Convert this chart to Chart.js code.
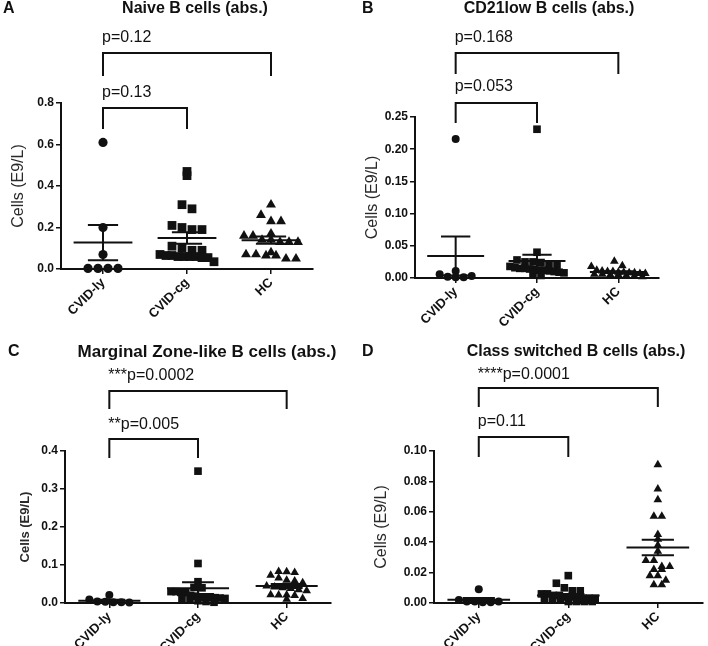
<!DOCTYPE html>
<html>
<head>
<meta charset="utf-8">
<script src="https://cdn.jsdelivr.net/npm/chart.js@4/dist/chart.umd.min.js"></script>
<style>
  html, body { margin: 0; padding: 0; background: #fff; }
  #page { position: relative; width: 708px; height: 646px; overflow: hidden; }
  canvas { position: absolute; }
</style>
</head>
<body>
<div id="page">
  <canvas id="chart-a" width="354" height="340" style="left:0;top:0"></canvas>
  <canvas id="chart-b" width="354" height="340" style="left:354px;top:0"></canvas>
  <canvas id="chart-c" width="354" height="326" style="left:0;top:320px"></canvas>
  <canvas id="chart-d" width="354" height="326" style="left:354px;top:320px"></canvas>
</div>
<script>
// ====
// Data
// ====
const groups = ['CVID-ly', 'CVID-cg', 'HC'];

//  A - Naive B cells
//  -----------------
const naiveLy = [0.61, 0.20, 0.07, 0.003, 0.003, 0.003, 0.003];
const naiveCg = [0.47, 0.45, 0.31, 0.29, 0.21, 0.20, 0.19, 0.19, 0.11, 0.10, 0.09,
                 0.09, 0.07, 0.065, 0.065, 0.06, 0.06, 0.06, 0.06, 0.055, 0.055, 0.035];
const naiveHc = [0.31, 0.26, 0.23, 0.23, 0.17, 0.16, 0.16, 0.14, 0.14, 0.13, 0.13,
                 0.13, 0.08, 0.07, 0.07, 0.065, 0.065, 0.05, 0.05];
const naiveP = ['p=0.13', 'p=0.12'];

//  B - CD21low B cells
//  -------------------
const cd21Ly = [0.216, 0.011, 0.006, 0.002, 0.001, 0.001, 0.003];
const cd21Cg = [0.231, 0.04, 0.028, 0.025, 0.025, 0.024, 0.022, 0.02, 0.018, 0.016, 0.015,
                0.015, 0.014, 0.013, 0.012, 0.012, 0.011, 0.01, 0.009, 0.008, 0.006, 0.004];
const cd21Hc = [0.026, 0.019, 0.018, 0.012, 0.011, 0.01, 0.01, 0.009, 0.009, 0.008,
                0.008, 0.007, 0.007, 0.006, 0.006, 0.005, 0.005, 0.004, 0.003, 0.002];
const cd21P = ['p=0.053', 'p=0.168'];

//  C - Marginal zone-like B cells
//  ------------------------------
const mzLy = [0.021, 0.009, 0.004, 0.003, 0.002, 0.002, 0.001];
const mzCg = [0.347, 0.104, 0.056, 0.041, 0.04, 0.03, 0.03, 0.028, 0.027, 0.02, 0.018,
              0.016, 0.015, 0.015, 0.014, 0.013, 0.012, 0.01, 0.008, 0.006, 0.004, 0.002];
const mzHc = [0.083, 0.082, 0.08, 0.073, 0.066, 0.06, 0.058, 0.053, 0.045, 0.042,
              0.04, 0.038, 0.035, 0.032, 0.022, 0.021, 0.021, 0.02, 0.012, 0.01];
const mzP = ['**p=0.005', '***p=0.0002'];

//  D - Class switched B cells
//  --------------------------
const csLy = [0.009, 0.002, 0.001, 0.001, 0.0005, 0.0005, 0.001];
const csCg = [0.018, 0.013, 0.010, 0.008, 0.008, 0.006, 0.006, 0.005, 0.005, 0.004, 0.004,
              0.004, 0.003, 0.003, 0.003, 0.002, 0.002, 0.002, 0.001, 0.001, 0.001, 0.001];
const csHc = [0.091, 0.075, 0.068, 0.057, 0.057, 0.045, 0.042, 0.038, 0.034, 0.028,
              0.028, 0.024, 0.024, 0.022, 0.022, 0.018, 0.018, 0.015, 0.012, 0.012];
const csP = ['p=0.11', '****p=0.0001'];


// ======
// Panels
// ======
const FONT = "'Liberation Sans', Arial, sans-serif";
const INK = '#111';

const panels = [
  {
    id: 'chart-a', letter: 'A', title: 'Naive B cells (abs.)', titleSize: 16,
    values: [naiveLy, naiveCg, naiveHc], pTexts: naiveP,
    yMax: 0.8, yStep: 0.2, decimals: 1,
    height: 340, area: {left: 61, right: 313, top: 103, bottom: 269},
    titlePos: [195, 9], letterX: 3,
    brackets: [{y: 108, leg: 129, text: 93}, {y: 53, leg: 76, text: 38}],
    yTitle: {pad: 9, size: 16, weight: 'normal'},
    marker: 4.6, gap: 10,
  },
  {
    id: 'chart-b', letter: 'B', title: 'CD21low B cells (abs.)', titleSize: 16,
    values: [cd21Ly, cd21Cg, cd21Hc], pTexts: cd21P,
    yMax: 0.25, yStep: 0.05, decimals: 2,
    height: 340, area: {left: 61, right: 305, top: 117, bottom: 278},
    titlePos: [195, 9], letterX: 8,
    brackets: [{y: 103, leg: 123, text: 87}, {y: 53, leg: 74, text: 38}],
    yTitle: {pad: 9, size: 16, weight: 'normal'},
    marker: 4, gap: 8,
  },
  {
    id: 'chart-c', letter: 'C', title: 'Marginal Zone-like B cells (abs.)', titleSize: 17,
    values: [mzLy, mzCg, mzHc], pTexts: mzP,
    yMax: 0.4, yStep: 0.1, decimals: 1,
    height: 326, area: {left: 65, right: 331, top: 131, bottom: 283},
    titlePos: [207, 32], letterX: 8,
    brackets: [{y: 119, leg: 138, text: 105}, {y: 71, leg: 89, text: 56}],
    yTitle: {pad: 18, size: 13, weight: 'bold'},
    marker: 4, gap: 8,
  },
  {
    id: 'chart-d', letter: 'D', title: 'Class switched B cells (abs.)', titleSize: 16,
    values: [csLy, csCg, csHc], pTexts: csP,
    yMax: 0.10, yStep: 0.02, decimals: 2,
    height: 326, area: {left: 80, right: 350, top: 131, bottom: 283},
    titlePos: [222, 32], letterX: 8,
    brackets: [{y: 117, leg: 137, text: 102}, {y: 68, leg: 87, text: 55}],
    yTitle: {pad: 18, size: 16, weight: 'normal'},
    marker: 4, gap: 8,
  },
];

const styles = ['circle', 'rect', 'triangle'];
// rect and triangle need a bigger radius to look as big as the circle
const sizeFactor = [1, 1.35, 1.25];


// =======
// Helpers
// =======

//  Scatter-dot spread: points in the same value band sit side by side
const spreadGroup = (values, pxY, pxX, gap, maxHalf) => {
  const bins = new Map();
  values.forEach((v, i) => {
    const b = Math.round(v * pxY / gap);
    if (!bins.has(b)) bins.set(b, []);
    bins.get(b).push(i);
  });
  const offsets = new Array(values.length).fill(0);
  bins.forEach((idx) => {
    const n = idx.length;
    const step = n > 1 ? Math.min(gap, 2 * maxHalf / (n - 1)) : 0;
    idx.forEach((i, j) => {
      offsets[i] = (j - (n - 1) / 2) * step / pxX;
    });
  });
  return offsets;
};

const meanSem = (values) => {
  const n = values.length;
  const mean = values.reduce((a, b) => a + b, 0) / n;
  const sd = Math.sqrt(values.reduce((a, v) => a + (v - mean) ** 2, 0) / (n - 1));
  return {mean, sem: sd / Math.sqrt(n)};
};

//  Mean/SEM lines, title, brackets and p-values
const decorPlugin = (p) => ({
  id: 'decor-' + p.id,
  afterDatasetsDraw(chart) {
    const {ctx, scales: {x, y}} = chart;
    ctx.save();
    ctx.strokeStyle = INK;
    ctx.lineWidth = 2;
    p.values.forEach((vals, g) => {
      const {mean, sem} = meanSem(vals);
      const cx = x.getPixelForValue(g + 1);
      const half = x.getPixelForValue(1.35) - x.getPixelForValue(1);
      const cap = x.getPixelForValue(1.18) - x.getPixelForValue(1);
      const yMean = y.getPixelForValue(mean);
      const yHi = y.getPixelForValue(mean + sem);
      const yLo = y.getPixelForValue(Math.max(mean - sem, 0));
      ctx.beginPath();
      ctx.moveTo(cx - half, yMean); ctx.lineTo(cx + half, yMean);
      ctx.moveTo(cx - cap, yHi); ctx.lineTo(cx + cap, yHi);
      ctx.moveTo(cx - cap, yLo); ctx.lineTo(cx + cap, yLo);
      ctx.moveTo(cx, yHi); ctx.lineTo(cx, yLo);
      ctx.stroke();
    });
    ctx.restore();
  },
  afterDraw(chart) {
    const {ctx, scales: {x}} = chart;
    ctx.save();
    ctx.fillStyle = INK;
    ctx.textBaseline = 'middle';

    ctx.font = `bold 16px ${FONT}`;
    ctx.textAlign = 'left';
    ctx.fillText(p.letter, p.letterX, p.titlePos[1]);
    ctx.font = `bold ${p.titleSize}px ${FONT}`;
    ctx.textAlign = 'center';
    ctx.fillText(p.title, p.titlePos[0], p.titlePos[1]);

    //  brackets: first one CVID-ly vs CVID-cg, second CVID-ly vs HC
    ctx.strokeStyle = INK;
    ctx.lineWidth = 2;
    ctx.font = `16px ${FONT}`;
    ctx.textAlign = 'left';
    p.brackets.forEach((b, i) => {
      const x1 = x.getPixelForValue(1);
      const x2 = x.getPixelForValue(i + 2);
      ctx.beginPath();
      ctx.moveTo(x1, b.leg); ctx.lineTo(x1, b.y);
      ctx.lineTo(x2, b.y); ctx.lineTo(x2, b.leg);
      ctx.stroke();
      ctx.fillText(p.pTexts[i], x1 - 1, b.text);
    });
    ctx.restore();
  },
});


// ======
// Charts
// ======
panels.forEach((p) => {
  const a = p.area;
  const pxY = (a.bottom - a.top) / p.yMax;
  const pxX = (a.right - a.left) / 3;

  const datasets = p.values.map((vals, g) => {
    const offs = spreadGroup(vals, pxY, pxX, p.gap, 27);
    return {
      data: vals.map((v, i) => ({x: g + 1 + offs[i], y: v})),
      pointStyle: styles[g],
      pointRadius: p.marker * sizeFactor[g],
      backgroundColor: INK,
      borderColor: INK,
      borderWidth: 0,
      clip: false,
    };
  });

  const axisGrid = {
    display: true, drawOnChartArea: false, drawTicks: true,
    tickLength: 5, color: INK, lineWidth: 1.5,
  };

  new Chart(document.getElementById(p.id), {
    type: 'scatter',
    data: {datasets},
    options: {
      responsive: false,
      animation: false,
      events: [],
      layout: {
        padding: {left: 0, top: a.top, right: 354 - a.right, bottom: 0},
      },
      scales: {
        x: {
          type: 'linear', min: 0.5, max: 3.5,
          afterBuildTicks: (s) => { s.ticks = [1, 2, 3].map((v) => ({value: v})); },
          afterFit: (s) => { s.height = p.height - a.bottom; },
          ticks: {
            minRotation: 45, maxRotation: 45, autoSkip: false, padding: 1,
            color: INK, font: {family: FONT, size: 13, weight: 'bold'},
            callback: (v) => groups[Math.round(v) - 1],
          },
          grid: axisGrid,
          border: {display: true, color: INK, width: 2},
        },
        y: {
          min: 0, max: p.yMax,
          afterFit: (s) => { s.width = a.left; },
          ticks: {
            stepSize: p.yStep, padding: 2,
            color: INK, font: {family: FONT, size: 12, weight: 'bold'},
            callback: (v) => v.toFixed(p.decimals),
          },
          grid: axisGrid,
          border: {display: true, color: INK, width: 2},
          title: {
            display: true, text: 'Cells (E9/L)', color: '#2a2a2a',
            font: {family: FONT, size: p.yTitle.size, weight: p.yTitle.weight},
            padding: {top: p.yTitle.pad, bottom: 0},
          },
        },
      },
      plugins: {
        legend: {display: false},
        tooltip: {enabled: false},
      },
    },
    plugins: [decorPlugin(p)],
  });
});
</script>
</body>
</html>
